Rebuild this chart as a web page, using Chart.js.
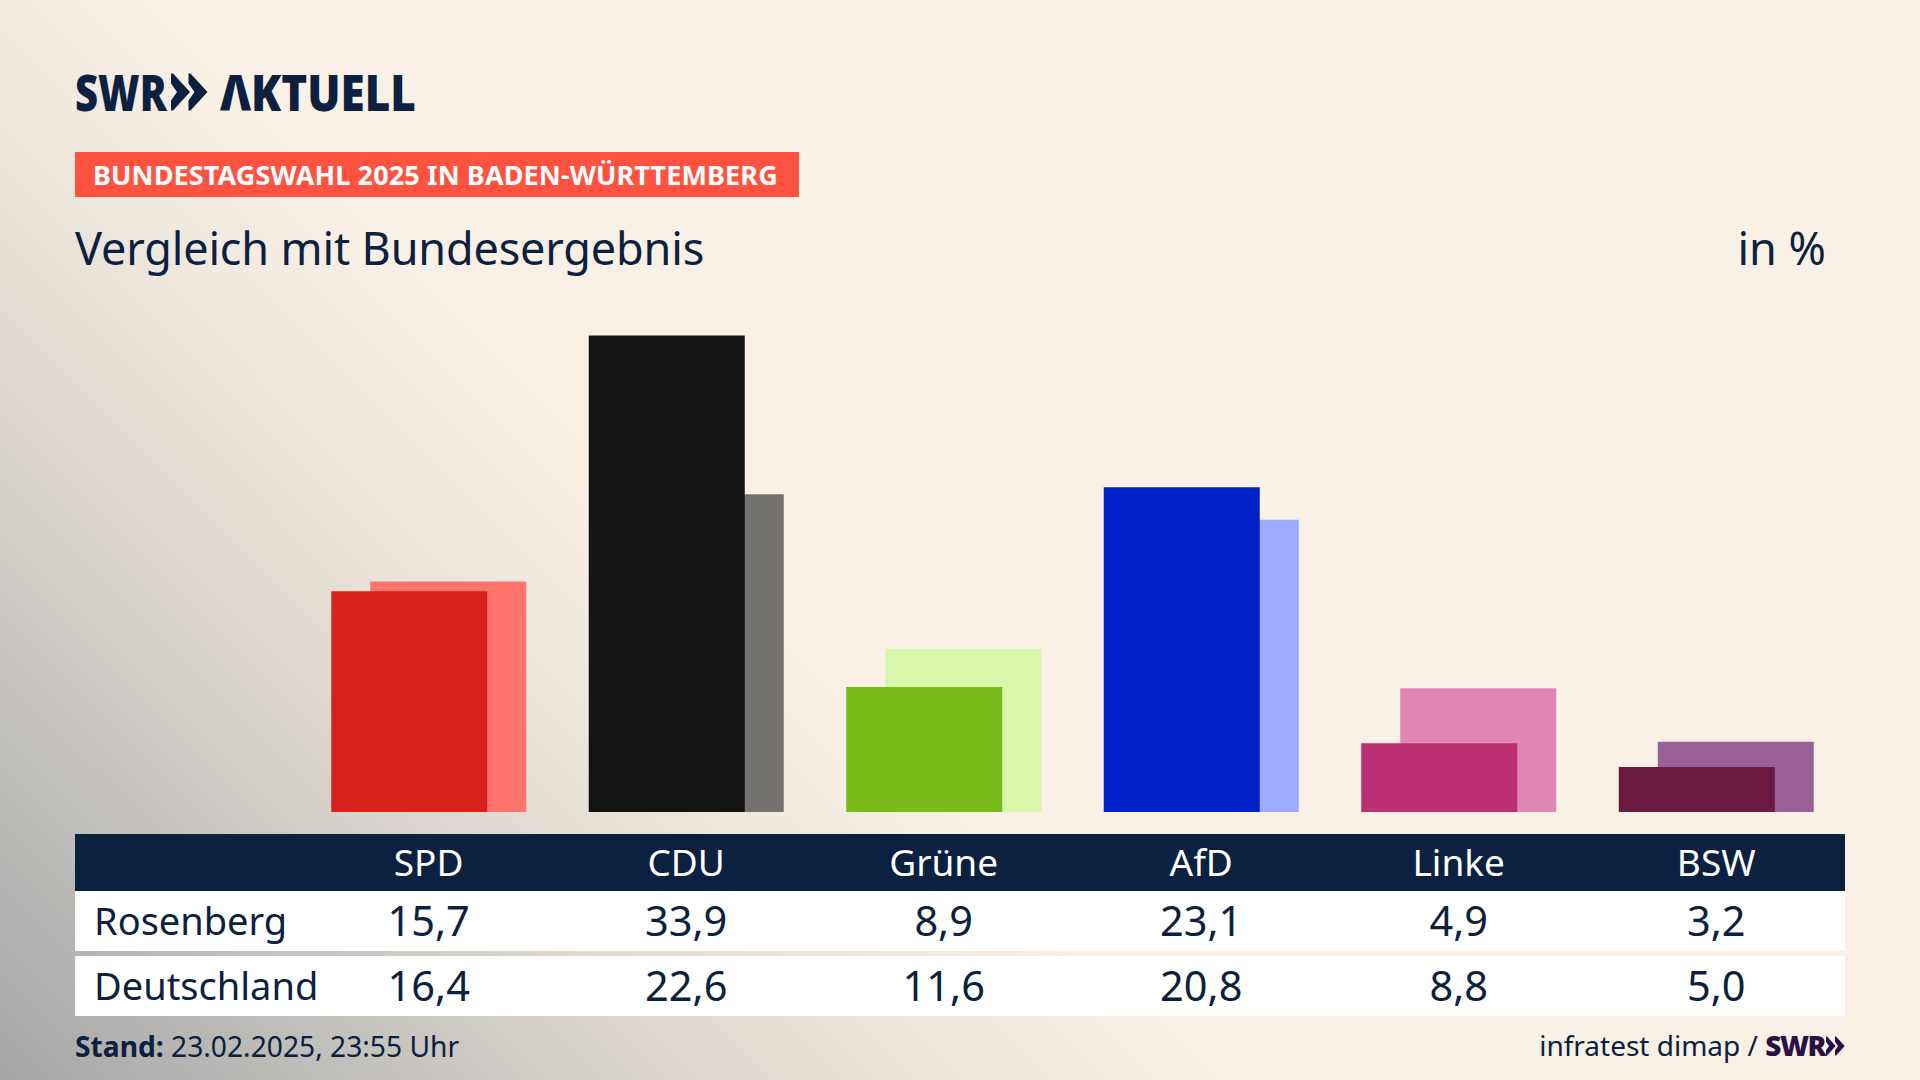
<!DOCTYPE html>
<html lang="de">
<head>
<meta charset="utf-8">
<title>Vergleich mit Bundesergebnis</title>
<script src="https://cdn.jsdelivr.net/npm/chart.js@4"></script>
<style>
    html, body { margin: 0; padding: 0; }
    body {
        position: relative;
        width: 1920px;
        height: 1080px;
        overflow: hidden;
        color: #0c2040;
        font-family: "Noto Sans", Lato, sans-serif;
        background: linear-gradient(225deg, #faf1e6 0%, #faf1e6 59%, #f0e9e0 66%, #e9e2d9 70.7%, #dcd6ce 77.3%, #cbc8c3 84%, #a6a6a6 100%);
    }
    .abs { position: absolute; white-space: nowrap; line-height: 1; }
    #logo { left: 75px; top: 67px; font-size: 50px; font-weight: 900; }
    #logo span { position: absolute; top: 0; transform-origin: 0 0; }
    #logo svg { position: absolute; left: 96px; top: 6px; }
    #banner { left: 75px; top: 152px; width: 724px; height: 45px; background: #ff5342; color: #fff;
              font-size: 27px; font-weight: 700; line-height: 45px; text-indent: 18px; letter-spacing: 0.12px; }
    #title { left: 75px; top: 225px; font-size: 45px; letter-spacing: -0.15px; }
    #unit { right: 94px; top: 225px; font-size: 45px; }
    #chart { position: absolute; left: 300px; top: 306px; }
    #table { position: absolute; left: 75px; top: 834px; width: 1770px; }
    .row { display: flex; background: #fff; height: 60px; align-items: center; }
    .row.head { background: #0c2040; color: #fff; height: 57px; }
    .row.gap { margin-top: 5px; }
    .row div { width: 257.67px; text-align: center; font-size: 41.5px; padding-bottom: 2px; }
    .row.head div { font-size: 37px; padding-bottom: 3px; }
    .row div.name { width: 225px; box-sizing: border-box; padding-left: 19px; text-align: left; font-size: 38px; }
    #stand { left: 75px; top: 1032px; font-size: 28.2px; }
    #source { right: 75px; top: 1031px; font-size: 28px; }
    #source b { color: #2a1045; font-weight: 900; letter-spacing: -1.5px; }
    #source svg { margin-left: 1px; }
</style>
</head>
<body>
    <div class="abs" id="logo"><span style="left:0;transform:scaleX(.8)">SWR</span><svg width="37" height="38" viewBox="0 0 37 37"><polygon points="0,0 2,0 19,18.5 2,37 0,37 0,27 6,18.5 0,10" fill="#0c2040"/><polygon points="17.5,0 19.5,0 36.5,18.5 19.5,37 17.5,37 17.5,27 23.5,18.5 17.5,10" fill="#0c2040"/></svg><span style="left:145px;transform:scaleX(.88)">ΛKTUELL</span></div>
    <div class="abs" id="banner">BUNDESTAGSWAHL 2025 IN BADEN-WÜRTTEMBERG</div>
    <div class="abs" id="title">Vergleich mit Bundesergebnis</div>
    <div class="abs" id="unit">in %</div>
    <canvas id="chart" width="1545" height="506"></canvas>
    <div id="table"></div>
    <div class="abs" id="stand"><b>Stand:</b> 23.02.2025, 23:55 Uhr</div>
    <div class="abs" id="source">infratest dimap / <b>SWR</b><svg width="19" height="20" viewBox="0 0 37 37"><polygon points="0,0 2,0 19,18.5 2,37 0,37 0,27 6,18.5 0,10" fill="#2a1045"/><polygon points="17.5,0 19.5,0 36.5,18.5 19.5,37 17.5,37 17.5,27 23.5,18.5 17.5,10" fill="#2a1045"/></svg></div>

<script>
    const parties = ['SPD', 'CDU', 'Grüne', 'AfD', 'Linke', 'BSW'];
    const rosenberg = [15.7, 33.9, 8.9, 23.1, 4.9, 3.2];
    const deutschland = [16.4, 22.6, 11.6, 20.8, 8.8, 5.0];
    const rosenbergColors = ['#d8201c', '#131313', '#79bc1b', '#0020c8', '#bb3074', '#6b1a40'];
    const deutschlandColors = ['#ff736d', '#74726f', '#d8f7ab', '#9dabff', '#de87b6', '#9b5f97'];

    // Two grouped bars with a very wide barPercentage, so they overlap
    new Chart(document.getElementById('chart'), {
        type: 'bar',
        data: {
            labels: parties,
            datasets: [
                { label: 'Rosenberg', data: rosenberg, backgroundColor: rosenbergColors },
                { label: 'Deutschland', data: deutschland, backgroundColor: deutschlandColors }
            ]
        },
        options: {
            responsive: false,
            animation: false,
            categoryPercentage: 78 / 257.5,
            barPercentage: 4,
            plugins: {
                legend: { display: false },
                tooltip: { enabled: false }
            },
            scales: {
                x: { display: false },
                y: { display: false, min: 0, max: 36 }
            }
        }
    });

    // Table below the bars
    function addRow(name, cells, className) {
        const row = document.createElement('div');
        row.className = 'row ' + className;
        [name].concat(cells).forEach(function(text, i) {
            const cell = document.createElement('div');
            if (i === 0) cell.className = 'name';
            cell.textContent = text;
            row.appendChild(cell);
        });
        document.getElementById('table').appendChild(row);
    }

    function formatValue(value) {
        return value.toFixed(1).replace('.', ',');
    }

    addRow('', parties, 'head');
    addRow('Rosenberg', rosenberg.map(formatValue), '');
    addRow('Deutschland', deutschland.map(formatValue), 'gap');
</script>
</body>
</html>
